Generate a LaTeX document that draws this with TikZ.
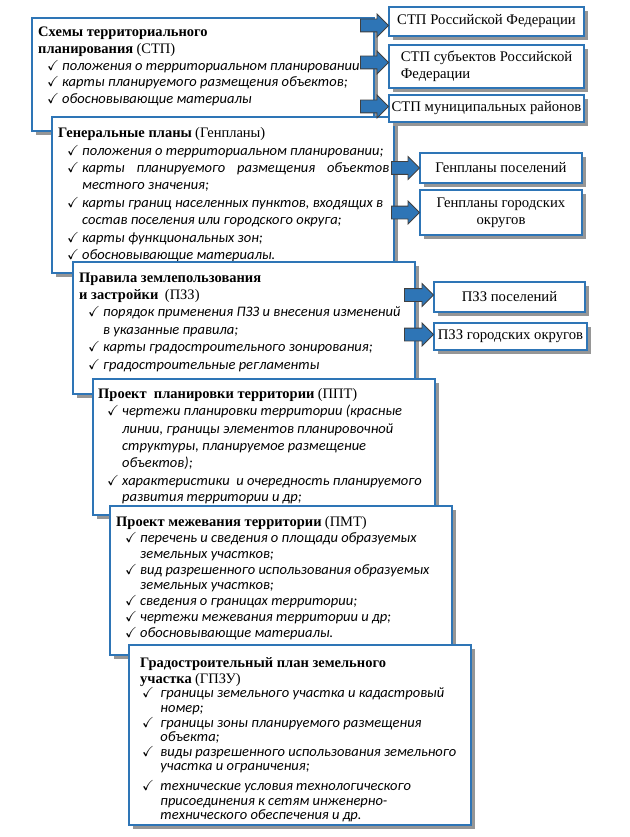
\documentclass[tikz,border=0pt]{standalone}
\usepackage{amssymb}
\usepackage{fontspec}
\setmainfont{Liberation Serif}
\newfontfamily\itemfont{Carlito}
\usetikzlibrary{shapes.arrows,shadows}
\definecolor{boxblue}{RGB}{46,117,182}
\definecolor{shadowgray}{RGB}{150,150,150}
\newcommand{\chk}[1][9pt]{\hspace*{#1}\makebox[15pt][l]{$\checkmark$}}
\newcommand{\cnt}[1][24pt]{\hspace*{#1}}
\newcommand{\ttl}[1]{{\rmfamily\upshape\bfseries #1}}
\newcommand{\abbr}[1]{{\rmfamily\upshape #1}}
\tikzset{
  mainbox/.style={draw=boxblue, line width=2.5pt, fill=white, minimum width=342pt,
    anchor=north west, inner sep=0pt, outer sep=0pt,
    drop shadow={shadow xshift=4pt, shadow yshift=-4pt, fill=shadowgray, opacity=1}},
  boxtext/.style={anchor=north west, inner sep=0pt, align=left,
    font=\fontsize{14.5}{#1}\selectfont\itemfont\itshape},
  boxtext/.default=17,
  subbox/.style={draw=boxblue, line width=2.2pt, fill=white, anchor=north west,
    inner sep=2pt, outer sep=0pt, align=center, font=\fontsize{14.7}{17}\selectfont,
    drop shadow={shadow xshift=4pt, shadow yshift=-4pt, fill=shadowgray, opacity=1}},
  blockarrow/.style={single arrow, draw=black!75, line width=0.8pt, fill=boxblue,
    minimum height=28pt, single arrow head extend=5pt,
    inner xsep=0pt, inner ysep=6pt, anchor=tip}
}
\begin{document}
\begin{tikzpicture}[x=1pt,y=1pt]
\useasboundingbox (0,0) rectangle (629,-837);
% схемы территориального планирования
\node[mainbox, minimum height=113pt] (stp) at (32,-18) {};
\node[boxtext=16.7] (stp-txt) at ([shift={(6,-9)}]stp.north west)
  {\ttl{Схемы территориального}\\
   \ttl{планирования} \abbr{(СТП)}\\
   \chk положения о территориальном планировании\\
   \chk карты планируемого размещения объектов;\\
   \chk обосновывающие материалы};
% генеральные планы
\node[mainbox, minimum height=156pt] (genplan) at (52,-117) {};
\node[boxtext=17.4] (genplan-txt) at ([shift={(6,-10.5)}]genplan.north west)
  {\ttl{Генеральные планы} \abbr{(Генпланы)}\\
   \chk положения о территориальном планировании;\\
   \chk\makebox[307pt][s]{карты планируемого размещения объектов}\\
   \cnt местного значения;\\
   \chk карты границ населенных пунктов, входящих в\\
   \cnt состав поселения или городского округа;\\
   \chk карты функциональных зон;\\
   \chk обосновывающие материалы.};
% правила землепользования и застройки
\node[mainbox, minimum height=132pt] (pzz) at (73,-262) {};
\node[boxtext=17.4] (pzz-txt) at ([shift={(6,-10.5)}]pzz.north west)
  {\ttl{Правила землепользования}\\
   \ttl{и застройки} \ \abbr{(ПЗЗ)}\\
   \chk порядок применения ПЗЗ и внесения изменений\\
   \cnt в указанные правила;\\
   \chk карты градостроительного зонирования;\\
   \chk градостроительные регламенты};
% проект планировки
\node[mainbox, minimum height=136pt] (ppt) at (93,-379) {};
\node[boxtext=17.4] (ppt-txt) at ([shift={(5,-9)}]ppt.north west)
  {\ttl{Проект \ планировки территории} \abbr{(ППТ)}\\
   \chk чертежи планировки территории (красные\\
   \cnt линии, границы элементов планировочной\\
   \cnt структуры, планируемое размещение\\
   \cnt объектов);\\
   \chk характеристики \ и очередность планируемого\\[-1pt]
   \cnt развития территории и др;};
% проект межевания
\node[mainbox, minimum height=149pt] (pmt) at (110,-506) {};
\node[boxtext=15.8] (pmt-txt) at ([shift={(6,-10.5)}]pmt.north west)
  {\ttl{Проект межевания территории} \abbr{(ПМТ)}\\
   \chk перечень и сведения о площади образуемых\\
   \cnt земельных участков;\\
   \chk вид разрешенного использования образуемых\\
   \cnt земельных участков;\\
   \chk сведения о границах территории;\\
   \chk чертежи межевания территории и др;\\
   \chk обосновывающие материалы.};
% ГПЗУ
\node[mainbox, minimum height=180pt] (gpzu) at (129,-645) {};
\node[boxtext=14.6] (gpzu-txt) at ([shift={(11,-12)}]gpzu.north west)
  {\ttl{Градостроительный план земельного}\\[1.5pt]
   \ttl{участка} \abbr{(ГПЗУ)}\\
   \chk[2pt] границы земельного участка и кадастровый\\
   \cnt[17pt] номер;\\
   \chk[2pt] границы зоны планируемого размещения\\
   \cnt[17pt] объекта;\\
   \chk[2pt] виды разрешенного использования земельного\\
   \cnt[17pt] участка и ограничения;\\[5pt]
   \chk[2pt] технические условия технологического\\
   \cnt[17pt] присоединения к сетям инженерно-\\
   \cnt[17pt] технического обеспечения и др.};
% уровни
\node[subbox, minimum width=195pt, minimum height=29pt] (stp-rf) at (389,-7) {СТП Российской Федерации};
\node[subbox, minimum width=195pt, minimum height=43pt, align=left] (stp-subj) at (389,-45) {СТП субъектов Российской\\Федерации};
\node[subbox, minimum width=195pt, minimum height=27pt] (stp-mr) at (389,-95) {СТП муниципальных районов};
\node[subbox, minimum width=162pt, minimum height=30pt] (gp-pos) at (420,-153) {Генпланы поселений};
\node[subbox, minimum width=162pt, minimum height=45pt] (gp-go) at (420,-190) {Генпланы городских\\округов};
\node[subbox, minimum width=151pt, minimum height=30pt] (pzz-pos) at (434,-282) {ПЗЗ поселений};
\node[subbox, minimum width=153pt, minimum height=27pt] (pzz-go) at (434,-323) {ПЗЗ городских округов};
% стрелки
\node[blockarrow] (a-rf) at ([yshift=-4pt]stp-rf.west) {};
\node[blockarrow] (a-subj) at ([yshift=4pt]stp-subj.west) {};
\node[blockarrow] (a-mr) at ([yshift=2pt]stp-mr.west) {};
\node[blockarrow] (a-gp-pos) at (gp-pos.west) {};
\node[blockarrow] (a-gp-go) at (gp-go.west) {};
\node[blockarrow, minimum height=29pt] (a-pzz-pos) at ([yshift=2pt]pzz-pos.west) {};
\node[blockarrow, minimum height=29pt] (a-pzz-go) at ([yshift=2pt]pzz-go.west) {};
\end{tikzpicture}
\end{document}
